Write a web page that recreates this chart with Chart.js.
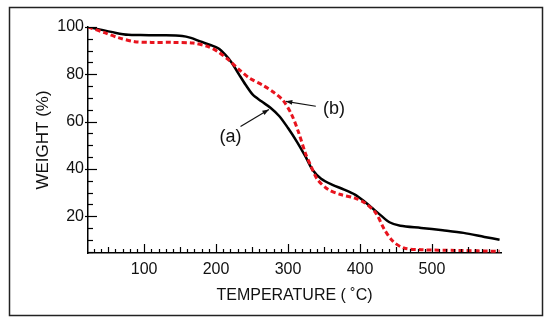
<!DOCTYPE html>
<html>
<head>
<meta charset="utf-8">
<script src="https://cdn.jsdelivr.net/npm/chart.js@4/dist/chart.umd.min.js"></script>
<style>
html, body { margin: 0; padding: 0; background: #fff; }
#wrap { width: 550px; height: 325px; position: relative; }
</style>
</head>
<body>
<div id="wrap"><canvas id="tga"></canvas></div>
<script>
// curve (a): solid black
var tempA = [22, 61, 78, 95, 125, 153, 165, 178, 192, 203, 213, 222, 232, 241, 251, 263, 276, 288, 300, 312, 324, 334, 346, 361, 378, 393, 405, 417, 429, 441, 456, 485, 515, 544, 573, 594];
var weightA = [100, 97.5, 96.7, 96.6, 96.5, 96.2, 95.4, 93.9, 92.4, 91.0, 88.2, 84.8, 79.9, 75.6, 71.4, 68.6, 65.8, 62.3, 57.3, 51.7, 45.4, 39.7, 35.9, 33.4, 31.3, 29.2, 26.6, 23.5, 20.4, 17.5, 16.0, 15.1, 14.1, 13.0, 11.3, 10.1];

// curve (b): dashed red
var tempB = [22, 46, 64, 87, 110, 139, 168, 188, 202, 217, 232, 246, 266, 280, 293, 305, 315, 324, 332, 341, 356, 373, 393, 407, 422, 434, 446, 461, 485, 534, 594];
var weightB = [100, 97.5, 95.5, 93.8, 93.5, 93.5, 93.2, 91.8, 89.7, 86.2, 82.0, 78.5, 75.2, 72.4, 69.0, 63.0, 55.2, 46.8, 41.1, 35.5, 31.3, 29.2, 27.7, 25.6, 21.4, 14.4, 9.4, 6.6, 5.9, 5.6, 5.2];

var xTicks = [100, 200, 300, 400, 500];
var yTicks = [20, 40, 60, 80, 100];

// annotation labels: [label, textT, textW, tailT, tailW, headT, headW]
var notes = [
    ['(a)', 220, 53.7, 234, 58.0, 273.5, 65.1],
    ['(b)', 364, 65.5, 338.6, 66.5, 296.8, 68.6]
];

var FONT = "'Liberation Sans', Arial, sans-serif";

function toPoints(xs, ys) {
    return xs.map(function (t, i) { return { x: t, y: ys[i] }; });
}

var framePlugin = {
    id: 'frame',
    beforeDraw: function (chart) {
        var ctx = chart.ctx;
        ctx.save();
        ctx.fillStyle = '#fff';
        ctx.fillRect(0, 0, chart.width, chart.height);
        ctx.strokeStyle = '#222';
        ctx.lineWidth = 1.5;
        ctx.strokeRect(9.5, 7.5, 533, 308);
        ctx.restore();
    }
};

var innerTicks = {
    id: 'innerTicks',
    afterDatasetsDraw: function (chart) {
        var ctx = chart.ctx;
        var x = chart.scales.x, y = chart.scales.y;
        var area = chart.chartArea;
        ctx.save();
        ctx.strokeStyle = '#000';
        ctx.lineWidth = 1.2;
        for (var v = 30; v <= x.max; v += 10) {
            var px = Math.round(x.getPixelForValue(v)) + 0.5;
            var len = v % 100 === 0 ? 9 : (v % 50 === 0 ? 6 : 4);
            ctx.beginPath();
            ctx.moveTo(px, area.bottom);
            ctx.lineTo(px, area.bottom - len);
            ctx.stroke();
        }
        for (var w = 5; w <= y.max; w += 5) {
            var py = Math.round(y.getPixelForValue(w)) + 0.5;
            var major = w % 20 === 0;
            ctx.beginPath();
            ctx.moveTo(area.left - (major ? 3 : 0), py);
            ctx.lineTo(area.left + (major ? 9 : 5), py);
            ctx.stroke();
        }
        ctx.restore();
    }
};

var notePlugin = {
    id: 'notes',
    afterDatasetsDraw: function (chart) {
        var ctx = chart.ctx;
        var x = chart.scales.x, y = chart.scales.y;
        ctx.save();
        ctx.strokeStyle = '#111';
        ctx.fillStyle = '#111';
        ctx.lineWidth = 1.2;
        ctx.font = '18px ' + FONT;
        ctx.textAlign = 'center';
        ctx.textBaseline = 'middle';
        notes.forEach(function (n) {
            ctx.fillText(n[0], x.getPixelForValue(n[1]), y.getPixelForValue(n[2]));
            var x0 = x.getPixelForValue(n[3]), y0 = y.getPixelForValue(n[4]);
            var x1 = x.getPixelForValue(n[5]), y1 = y.getPixelForValue(n[6]);
            var a = Math.atan2(y1 - y0, x1 - x0);
            ctx.beginPath();
            ctx.moveTo(x0, y0);
            ctx.lineTo(x1, y1);
            ctx.stroke();
            ctx.beginPath();
            ctx.moveTo(x1, y1);
            ctx.lineTo(x1 - 7 * Math.cos(a - 0.35), y1 - 7 * Math.sin(a - 0.35));
            ctx.lineTo(x1 - 7 * Math.cos(a + 0.35), y1 - 7 * Math.sin(a + 0.35));
            ctx.closePath();
            ctx.fill();
        });
        ctx.restore();
    }
};

new Chart(document.getElementById('tga'), {
    type: 'line',
    data: {
        datasets: [
            {
                label: '(a)',
                data: toPoints(tempA, weightA),
                borderColor: '#000',
                borderWidth: 2.5,
                pointRadius: 0,
                tension: 0.3,
                order: 2
            },
            {
                label: '(b)',
                data: toPoints(tempB, weightB),
                borderColor: '#e8141e',
                borderWidth: 3,
                borderDash: [5, 3],
                pointRadius: 0,
                tension: 0.3,
                order: 1
            }
        ]
    },
    options: {
        responsive: true,
        maintainAspectRatio: false,
        animation: false,
        devicePixelRatio: 1,
        layout: { padding: { left: 10, right: 49, top: 27, bottom: 12 } },
        plugins: {
            legend: { display: false },
            tooltip: { enabled: false }
        },
        scales: {
            x: {
                type: 'linear',
                min: 22,
                max: 596,
                afterBuildTicks: function (scale) {
                    scale.ticks = xTicks.map(function (v) { return { value: v }; });
                },
                afterFit: function (scale) { scale.height = 60; },
                grid: { drawOnChartArea: false, drawTicks: false },
                border: { display: true, color: '#000', width: 1.5 },
                ticks: { color: '#111', padding: 7, maxRotation: 0, font: { family: FONT, size: 16 } },
                title: {
                    display: true,
                    text: 'TEMPERATURE ( ˚C)',
                    color: '#111',
                    padding: { top: 4, bottom: 8 },
                    font: { family: FONT, size: 16 }
                }
            },
            y: {
                type: 'linear',
                min: 4.5,
                max: 100,
                afterBuildTicks: function (scale) {
                    scale.ticks = yTicks.map(function (v) { return { value: v }; });
                },
                afterFit: function (scale) { scale.width = 78; },
                grid: { drawOnChartArea: false, drawTicks: false },
                border: { display: true, color: '#000', width: 1.5 },
                ticks: { color: '#111', padding: 4, font: { family: FONT, size: 16 } },
                title: {
                    display: true,
                    text: 'WEIGHT (%)',
                    color: '#111',
                    padding: { top: 23, bottom: 0 },
                    font: { family: FONT, size: 17 }
                }
            }
        }
    },
    plugins: [framePlugin, innerTicks, notePlugin]
});
</script>
</body>
</html>
